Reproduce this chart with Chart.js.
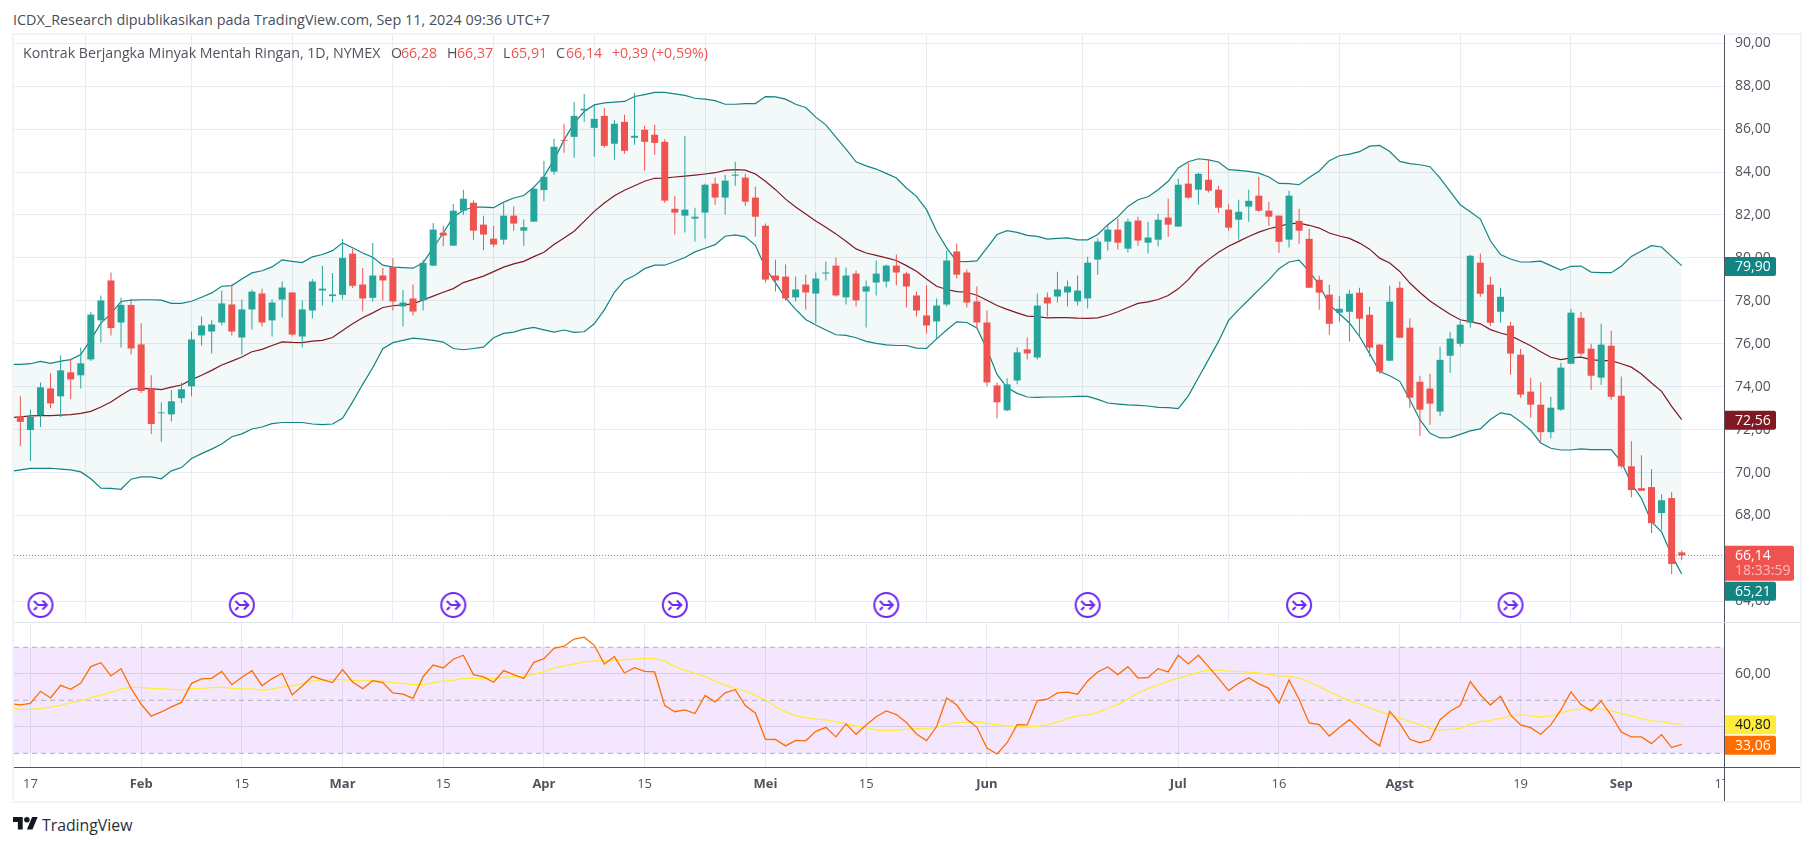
<!DOCTYPE html>
<html>
<head>
<meta charset="utf-8">
<title>Kontrak Berjangka Minyak Mentah Ringan</title>
<script src="https://cdn.jsdelivr.net/npm/chart.js@4/dist/chart.umd.js"></script>
<style>
  html, body { margin: 0; padding: 0; background: #fff; width: 1814px; height: 846px; overflow: hidden; }
  body { font-family: "Open Sans", sans-serif; color: #50535e; }
  .abs { position: absolute; white-space: nowrap; }
  #frame { position: absolute; left: 12px; top: 33px; width: 1786px; height: 766px; border: 2px solid #f0f3fa; }
  #divider { position: absolute; left: 14px; top: 622px; width: 1786px; height: 1px; background: #e0e3eb; }
  canvas { position: absolute; left: 14px; }
  #priceChart { top: 35px; }
  #rsiChart { top: 623px; }
  #title { left: 13px; top: 11px; font-size: 14.4px; line-height: 18px; color: #4a4e59; }
  .lg { top: 44px; font-size: 14.2px; line-height: 18px; color: #50535e; }
  .red { color: #ef5350; }
  #brand { left: 42px; top: 814px; font-size: 15.8px; line-height: 22px; color: #2a2e39; }
  #logo { position: absolute; left: 13px; top: 814px; }
</style>
</head>
<body>
<div id="frame"></div>
<canvas id="priceChart" width="1786" height="587"></canvas>
<div id="divider"></div>
<canvas id="rsiChart" width="1786" height="178"></canvas>

<div class="abs" id="title">ICDX_Research dipublikasikan pada TradingView.com, Sep 11, 2024 09:36 UTC+7</div>
<div class="abs lg" style="left:23px">Kontrak Berjangka Minyak Mentah Ringan, 1D, NYMEX</div>
<div class="abs lg" style="left:391px">O</div><div class="abs lg red" style="left:401px">66,28</div>
<div class="abs lg" style="left:447px">H</div><div class="abs lg red" style="left:457px">66,37</div>
<div class="abs lg" style="left:503px">L</div><div class="abs lg red" style="left:511px">65,91</div>
<div class="abs lg" style="left:556px">C</div><div class="abs lg red" style="left:566px">66,14</div>
<div class="abs lg red" style="left:612px">+0,39 (+0,59%)</div>

<svg id="logo" width="25" height="20" viewBox="0 0 36 28"><path fill="#131722" d="M14 22H7V11H0V4h14v18zM28 22h-8l7.5-18h8L28 22z"/><circle fill="#131722" cx="20" cy="8" r="4"/></svg>
<div class="abs" id="brand">TradingView</div>

<script>
const FONT = '"Open Sans", sans-serif';

// candles, first bar is the one before 17 Jan
const firstBar = -1;
const opens = [72.62, 71.98, 72.67, 73.92, 73.55, 74.67, 74.53, 75.27, 77.09, 78.95, 76.99,
  77.81, 75.97, 73.92, 72.76, 72.71, 73.46, 74.02, 76.39, 76.57, 76.99,
  77.83, 76.29, 77.6, 78.34, 77.09, 78.06, 78.39, 76.34, 77.55, 78.48,
  78.22, 78.28, 80.2, 78.76, 78.14, 79.18, 79.57, 77.74, 78.11, 78.02,
  79.64, 81.18, 80.57, 82.2, 82.57, 81.55, 80.9, 80.85, 81.97, 81.27,
  81.69, 83.16, 84.02, 85.5, 85.64, 86.87, 86.06, 86.62, 85.32, 86.34,
  85.6, 85.97, 85.74, 85.41, 82.29, 81.97, 81.83, 82.11, 83.46, 82.81,
  83.83, 83.74, 82.81, 81.5, 79.18, 79.13, 78.16, 78.76, 78.34, 79.27,
  79.64, 78.16, 79.27, 78.43, 78.85, 78.9, 79.64, 79.27, 78.25, 77.32,
  77.04, 77.83, 80.3, 79.32, 77.97, 76.99, 74.06, 72.9, 74.29, 75.74,
  75.36, 78.16, 78.2, 78.39, 77.97, 78.11, 79.92, 80.76, 81.32, 80.43,
  81.74, 80.71, 80.85, 81.88, 81.46, 83.46, 83.18, 83.64, 83.18, 82.25,
  81.78, 82.39, 82.9, 82.2, 81.97, 80.85, 81.73, 80.89, 78.98, 78.29,
  77.45, 77.49, 78.38, 77.35, 75.96, 75.21, 78.61, 76.75, 74.23, 73.91,
  72.84, 75.44, 76.0, 76.98, 79.78, 78.75, 77.49, 76.84, 75.49, 73.77,
  73.16, 71.88, 72.93, 75.07, 77.21, 75.77, 74.42, 75.91, 73.58, 70.29,
  69.27, 69.32, 68.11, 68.81, 66.28];
const closes = [72.36, 72.59, 73.97, 73.22, 74.76, 74.34, 75.09, 77.36, 78.02, 76.73, 77.81,
  75.78, 73.8, 72.26, 72.8, 73.32, 73.88, 76.2, 76.85, 76.9, 77.88,
  76.57, 77.6, 78.43, 76.99, 77.92, 78.62, 76.43, 77.6, 78.9, 78.57,
  78.3, 80.0, 78.7, 78.11, 79.18, 78.95, 77.97, 77.92, 77.5, 79.77,
  81.32, 81.04, 82.2, 82.76, 81.27, 81.09, 80.62, 81.97, 81.6, 81.43,
  83.22, 83.78, 85.18, 85.46, 86.62, 86.95, 86.48, 85.22, 86.25, 84.99,
  85.69, 85.41, 85.36, 82.67, 82.11, 82.25, 81.92, 83.41, 82.81, 83.6,
  83.88, 82.62, 81.92, 78.99, 78.95, 78.11, 78.53, 78.39, 79.04, 79.32,
  78.25, 79.18, 78.02, 78.67, 79.27, 79.64, 79.32, 78.67, 77.55, 76.85,
  77.78, 79.88, 79.22, 77.92, 76.99, 74.2, 73.27, 74.11, 75.6, 75.55,
  77.78, 77.88, 78.53, 78.67, 78.48, 79.78, 80.76, 81.32, 80.71, 81.69,
  80.81, 80.95, 81.78, 81.55, 83.41, 82.81, 83.92, 83.13, 82.34, 81.41,
  82.15, 82.66, 82.2, 81.92, 80.75, 82.9, 81.27, 78.61, 78.38, 76.93,
  77.63, 78.33, 77.17, 75.82, 74.7, 77.96, 76.28, 73.49, 72.93, 73.21,
  75.25, 76.24, 76.89, 80.1, 78.33, 76.98, 78.19, 75.54, 73.63, 73.16,
  71.88, 73.02, 74.89, 77.45, 75.54, 74.51, 75.96, 73.53, 70.29, 69.18,
  69.15, 67.64, 68.71, 65.74, 66.14];
const highs = [73.55, 72.93, 74.2, 74.62, 75.46, 75.26, 75.83, 77.49, 78.25, 79.32, 78.14,
  78.09, 76.95, 74.53, 73.27, 73.83, 74.19, 76.57, 77.27, 77.09, 78.48,
  78.76, 78.06, 78.53, 78.56, 78.06, 78.9, 78.39, 78.02, 79.02, 79.64,
  79.3, 80.88, 80.42, 79.53, 80.7, 79.53, 80.0, 78.5, 78.76, 79.92,
  81.63, 81.5, 82.51, 83.18, 82.67, 81.97, 81.5, 82.53, 82.39, 81.8,
  83.33, 84.53, 85.55, 86.25, 87.27, 87.64, 87.13, 86.99, 86.43, 86.67,
  87.69, 86.16, 86.2, 85.53, 82.9, 85.69, 82.34, 83.46, 83.74, 83.88,
  84.48, 83.92, 83.32, 81.6, 79.92, 79.69, 79.13, 79.22, 79.32, 79.83,
  80.02, 79.55, 79.41, 78.95, 79.88, 79.69, 80.16, 79.36, 78.43, 78.71,
  78.11, 80.34, 80.67, 79.46, 78.67, 77.55, 74.2, 74.39, 75.83, 76.29,
  78.34, 78.39, 79.36, 78.95, 79.18, 80.06, 80.9, 81.55, 81.83, 81.83,
  81.92, 81.69, 82.06, 82.76, 83.69, 84.43, 83.97, 84.57, 83.36, 82.52,
  82.71, 83.18, 83.78, 82.62, 81.97, 83.13, 82.29, 81.36, 79.17, 78.75,
  78.24, 78.52, 78.61, 77.73, 76.0, 78.7, 78.9, 77.18, 74.51, 74.6,
  75.86, 76.56, 77.07, 80.15, 80.2, 79.12, 78.61, 77.03, 75.77, 74.42,
  74.19, 73.53, 75.12, 77.63, 77.49, 76.0, 76.93, 76.61, 74.47, 71.46,
  70.81, 70.16, 68.99, 69.09, 66.37];
const lows = [71.24, 70.54, 72.12, 73.0, 72.59, 73.43, 73.92, 75.2, 76.06, 76.39, 75.83,
  75.5, 73.71, 71.8, 71.43, 72.39, 73.24, 73.55, 75.92, 75.55, 76.85,
  76.39, 75.5, 76.67, 76.81, 76.34, 77.22, 76.34, 75.83, 77.18, 77.78,
  77.92, 78.06, 78.6, 77.5, 77.97, 78.02, 77.55, 76.81, 77.32, 77.55,
  79.61, 80.54, 80.57, 82.0, 80.85, 80.36, 80.5, 80.62, 81.27, 80.57,
  81.69, 82.64, 83.88, 84.9, 84.67, 86.34, 84.71, 85.13, 84.57, 84.85,
  85.27, 84.06, 84.81, 82.57, 81.09, 81.18, 80.76, 80.9, 82.48, 82.02,
  83.36, 82.43, 80.99, 78.85, 78.43, 78.02, 77.97, 77.6, 76.95, 78.95,
  78.2, 77.83, 77.74, 76.76, 78.25, 78.62, 78.71, 77.69, 77.27, 76.48,
  76.2, 77.74, 79.04, 77.69, 76.71, 74.02, 72.53, 72.85, 74.11, 75.27,
  75.27, 77.27, 77.92, 77.74, 77.78, 77.64, 79.22, 80.34, 80.39, 80.25,
  80.57, 80.2, 80.53, 80.99, 81.46, 82.76, 82.48, 83.05, 82.11, 81.27,
  80.85, 81.69, 82.15, 81.5, 80.24, 80.48, 80.66, 78.61, 77.59, 76.42,
  77.03, 76.1, 76.28, 75.41, 74.6, 75.2, 76.28, 73.02, 71.7, 72.23,
  72.62, 74.65, 75.86, 76.75, 78.19, 76.84, 76.98, 74.56, 73.49, 72.56,
  71.46, 71.6, 72.88, 75.07, 75.44, 73.86, 74.09, 73.39, 70.2, 68.85,
  69.15, 67.18, 67.32, 65.27, 65.91];

// bollinger bands, one bar further back so they run in from the left edge
const firstLine = -2;
const bbUpper = [75.04, 75.04, 75.07, 75.18, 75.09, 75.19, 75.26, 75.5, 76.19, 76.96, 77.4, 77.97,
  78.03, 78.05, 78.05, 78.03, 77.88, 77.88, 77.98, 78.17, 78.37, 78.68,
  78.71, 79.02, 79.3, 79.4, 79.58, 79.91, 79.84, 79.78, 80.05, 80.16,
  80.34, 80.7, 80.47, 80.23, 80.03, 79.66, 79.57, 79.55, 79.52, 79.77,
  80.47, 81.16, 81.91, 82.22, 82.37, 82.37, 82.34, 82.6, 82.79, 82.91,
  83.3, 83.8, 84.57, 85.5, 86.28, 86.82, 87.13, 87.22, 87.26, 87.29,
  87.52, 87.61, 87.71, 87.71, 87.64, 87.57, 87.44, 87.4, 87.33, 87.16,
  87.16, 87.19, 87.19, 87.52, 87.5, 87.4, 87.16, 87.01, 86.56, 86.2,
  85.63, 85.07, 84.48, 84.29, 84.14, 83.94, 83.72, 83.26, 82.87, 82.25,
  81.24, 80.47, 79.84, 79.83, 79.86, 80.47, 81.09, 81.27, 81.19, 81.05,
  81.0, 80.88, 80.91, 80.93, 80.84, 80.84, 81.09, 81.55, 81.91, 82.4,
  82.71, 82.85, 83.18, 83.57, 84.19, 84.48, 84.62, 84.57, 84.47, 84.11,
  84.08, 84.03, 83.95, 83.77, 83.47, 83.46, 83.41, 83.75, 84.05, 84.53,
  84.76, 84.84, 84.95, 85.21, 85.24, 84.96, 84.5, 84.39, 84.34, 84.25,
  83.72, 83.1, 82.48, 82.15, 81.81, 80.8, 80.16, 79.95, 79.81, 79.82,
  79.85, 79.64, 79.43, 79.61, 79.62, 79.34, 79.31, 79.31, 79.61, 80.07,
  80.32, 80.57, 80.51, 80.07, 79.64];
const bbBasis = [72.56, 72.59, 72.64, 72.65, 72.65, 72.67, 72.7, 72.76, 72.85, 73.05, 73.29, 73.6,
  73.88, 73.92, 73.91, 73.86, 73.98, 74.08, 74.33, 74.53, 74.76, 75.01,
  75.19, 75.38, 75.63, 75.74, 75.92, 76.09, 76.06, 76.05, 76.12, 76.16,
  76.29, 76.62, 76.93, 77.21, 77.44, 77.69, 77.77, 77.81, 77.86, 78.04,
  78.22, 78.4, 78.57, 78.85, 79.0, 79.15, 79.36, 79.57, 79.72, 79.84,
  80.06, 80.26, 80.62, 80.93, 81.24, 81.7, 82.17, 82.56, 82.9, 83.15,
  83.36, 83.57, 83.71, 83.72, 83.77, 83.81, 83.86, 83.91, 83.97, 84.08,
  84.11, 84.09, 83.91, 83.57, 83.18, 82.74, 82.37, 82.05, 81.72, 81.43,
  81.12, 80.78, 80.42, 80.23, 80.12, 80.0, 79.88, 79.64, 79.38, 79.02,
  78.68, 78.53, 78.43, 78.4, 78.26, 78.03, 77.78, 77.6, 77.44, 77.29,
  77.26, 77.21, 77.22, 77.22, 77.19, 77.18, 77.21, 77.33, 77.49, 77.69,
  77.88, 77.95, 78.06, 78.25, 78.56, 78.99, 79.53, 79.92, 80.26, 80.54,
  80.77, 81.0, 81.2, 81.36, 81.47, 81.59, 81.62, 81.52, 81.39, 81.16,
  81.02, 80.91, 80.69, 80.41, 79.99, 79.76, 79.37, 78.83, 78.39, 77.99,
  77.68, 77.37, 77.12, 77.03, 76.93, 76.66, 76.5, 76.38, 76.14, 75.91,
  75.63, 75.37, 75.26, 75.34, 75.38, 75.26, 75.21, 75.21, 75.07, 74.91,
  74.59, 74.17, 73.78, 73.08, 72.46];
const bbLower = [70.05, 70.12, 70.19, 70.19, 70.2, 70.16, 70.12, 70.03, 69.71, 69.27, 69.26, 69.22,
  69.69, 69.8, 69.8, 69.71, 70.08, 70.23, 70.65, 70.88, 71.09, 71.33,
  71.67, 71.8, 72.03, 72.12, 72.28, 72.33, 72.33, 72.33, 72.26, 72.23,
  72.26, 72.53, 73.29, 74.11, 74.88, 75.77, 76.05, 76.16, 76.26, 76.22,
  76.16, 76.08, 75.78, 75.72, 75.78, 75.84, 76.28, 76.48, 76.54, 76.68,
  76.76, 76.65, 76.54, 76.64, 76.53, 76.56, 76.93, 77.58, 78.4, 78.95,
  79.18, 79.5, 79.66, 79.66, 79.83, 80.02, 80.28, 80.45, 80.62, 81.01,
  81.07, 80.98, 80.59, 79.53, 78.84, 78.14, 77.6, 77.13, 76.87, 76.64,
  76.42, 76.39, 76.28, 76.11, 76.02, 75.95, 75.92, 75.92, 75.8, 75.78,
  76.23, 76.64, 77.02, 76.99, 76.74, 75.74, 74.57, 73.95, 73.69, 73.52,
  73.5, 73.52, 73.52, 73.53, 73.55, 73.55, 73.41, 73.24, 73.19, 73.15,
  73.13, 73.1, 73.04, 73.02, 72.98, 73.57, 74.42, 75.26, 76.11, 77.09,
  77.59, 78.05, 78.52, 78.98, 79.5, 79.81, 79.9, 79.37, 78.75, 77.82,
  77.4, 76.97, 76.34, 75.54, 74.71, 74.51, 74.25, 73.39, 72.46, 71.83,
  71.61, 71.63, 71.78, 71.94, 72.03, 72.47, 72.78, 72.7, 72.37, 71.97,
  71.38, 71.13, 71.05, 71.05, 71.1, 71.07, 71.07, 71.07, 70.5, 69.49,
  68.79, 67.71, 67.24, 66.15, 65.27];

// rsi pane
const rsi = [48.74, 48.24, 48.87, 53.4, 50.88, 55.66, 54.15, 56.54, 62.7, 64.2, 59.2, 61.95,
  54.5, 48.5, 44.0, 45.6, 47.5, 49.2, 56.4, 58.05, 58.3, 60.9,
  55.9, 58.7, 61.2, 55.5, 58.2, 60.2, 52.0, 55.4, 59.05, 57.8,
  56.7, 61.6, 56.9, 54.4, 57.4, 56.7, 52.8, 52.3, 50.75, 58.9,
  63.3, 62.2, 65.5, 67.0, 59.7, 58.8, 56.8, 61.2, 59.7, 58.2,
  64.3, 65.7, 69.6, 70.4, 73.1, 73.8, 70.75, 63.7, 66.5, 60.3,
  62.3, 60.9, 60.7, 48.0, 45.7, 46.4, 45.0, 51.8, 49.4, 52.8,
  54.0, 48.0, 45.2, 35.3, 35.2, 32.8, 34.9, 34.7, 38.3, 39.8,
  36.2, 41.1, 37.2, 40.7, 43.8, 46.0, 44.6, 41.6, 37.3, 34.8,
  40.1, 50.9, 48.2, 42.8, 39.8, 32.0, 29.75, 34.0, 40.8, 40.7,
  49.9, 50.4, 52.8, 53.1, 52.3, 57.3, 60.7, 62.6, 59.7, 62.7,
  58.4, 58.6, 61.95, 60.7, 67.0, 63.7, 67.0, 62.7, 58.3, 53.65,
  56.4, 58.55, 56.2, 54.5, 48.9, 57.7, 50.4, 41.45, 40.8, 36.5,
  39.7, 42.7, 39.05, 35.4, 32.8, 45.85, 41.3, 35.3, 34.0, 35.0,
  42.7, 45.85, 48.0, 57.05, 52.1, 48.2, 51.5, 44.5, 40.7, 39.7,
  37.2, 40.7, 46.35, 53.15, 48.4, 46.0, 49.75, 44.35, 38.05, 36.2,
  36.2, 33.65, 37.05, 32.15, 33.4];
const rsiMa = [47.0, 46.7, 46.5, 46.9, 47.4, 48.1, 49.1, 49.9, 51.0, 52.0, 53.1, 54.3,
  54.9, 54.9, 54.5, 54.4, 54.15, 53.9, 54.4, 54.5, 54.8, 55.0,
  54.5, 54.3, 54.3, 53.8, 54.3, 55.0, 55.5, 56.3, 57.2, 57.7,
  57.8, 57.8, 57.55, 57.4, 57.4, 57.2, 56.7, 56.4, 55.9, 55.9,
  56.7, 57.2, 57.55, 58.3, 58.4, 58.3, 58.3, 58.7, 58.9, 59.05,
  59.8, 60.7, 62.2, 63.0, 63.7, 64.5, 64.85, 64.85, 65.2, 65.3,
  65.6, 65.7, 65.7, 64.85, 62.7, 61.4, 60.2, 59.05, 57.2, 55.7,
  54.5, 53.5, 51.85, 50.1, 47.6, 45.6, 44.2, 43.4, 42.9, 42.6,
  41.9, 41.2, 40.3, 39.7, 38.8, 38.7, 38.7, 39.1, 39.3, 39.4,
  39.8, 40.9, 41.6, 41.8, 41.9, 41.3, 40.8, 40.3, 40.1, 39.9,
  40.2, 40.8, 41.8, 43.2, 44.1, 44.5, 45.5, 46.9, 48.4, 50.5,
  52.8, 54.4, 55.8, 57.2, 58.4, 59.4, 60.6, 61.4, 61.4, 61.0,
  60.8, 60.6, 60.3, 59.8, 59.2, 59.05, 58.4, 56.9, 55.15, 53.3,
  51.4, 49.9, 48.6, 47.2, 45.7, 44.7, 43.3, 41.95, 40.8, 39.4,
  38.8, 39.05, 39.4, 40.9, 41.95, 42.45, 43.2, 44.0, 44.5, 44.1,
  43.7, 44.1, 45.2, 46.35, 46.7, 46.85, 46.7, 46.0, 45.0, 44.1,
  43.1, 42.2, 41.95, 41.3, 40.9];

// axes
const tickBars = [0, 11, 21, 31, 41, 51, 61, 73, 83, 95, 114, 124, 136, 148, 158, 168];
const tickLabels = ['17', 'Feb', '15', 'Mar', '15', 'Apr', '15', 'Mei', '15', 'Jun', 'Jul', '16', 'Agst', '19', 'Sep', '17'];
const monthLabels = ['Feb', 'Mar', 'Apr', 'Mei', 'Jun', 'Jul', 'Agst', 'Sep'];
const priceTicks = [64, 66, 68, 70, 72, 74, 76, 78, 80, 82, 84, 86, 88, 90];
const rsiTicks = [40, 60];
const rsiLevels = [70, 50, 30];

// dividends markers along the bottom of the price pane
const eventBars = [1, 21, 42, 64, 85, 105, 126, 147];
const eventPrice = 63.83;

// last value tags on the right
const lastClose = 66.14;
const countdown = '18:33:59';
const priceTagAt = [79.6, 72.43, 66.14, 64.47];
const priceTagText = ['79,90', '72,56', '66,14', '65,21'];
const priceTagColor = ['#138484', '#801922', '#ef5350', '#138484'];
const rsiTagAt = [40.8, 33.06];
const rsiTagText = ['40,80', '33,06'];
const rsiTagColor = ['#ffeb3b', '#ff6d00'];
const rsiTagInk = ['#131722', '#ffffff'];

const UP = '#26a69a', DOWN = '#ef5350';
const GRID = '#e6edf3', AXIS = '#50535e', TEXT = '#50535e';

const barNo = k => k + firstBar;
const lineNo = k => k + firstLine;
const lineData = values => values.map((y, k) => ({ x: lineNo(k), y }));
const candleColor = closes.map((c, k) => (c >= opens[k] ? UP : DOWN));

// same horizontal range for both panes
const xMin = -1.63, xMax = 168.2;

function xScale(showLabels) {
  return {
    type: 'linear', bounds: 'data', min: xMin, max: xMax, offset: false,
    afterBuildTicks: s => { s.ticks = tickBars.map(value => ({ value })); },
    afterFit: s => {
      s.height = showLabels ? 34 : 0;
      s.paddingLeft = s.paddingRight = 0;
    },
    border: { display: showLabels, color: AXIS },
    grid: {
      color: ctx => (ctx.tick && ctx.tick.value === 168 ? 'transparent' : GRID),
      drawTicks: false
    },
    ticks: {
      display: showLabels, autoSkip: false, maxRotation: 0, padding: 9, color: TEXT,
      callback: (v, i) => tickLabels[i],
      font: ctx => ({ family: FONT, size: 13, weight: monthLabels.includes(tickLabels[ctx.index]) ? 'bold' : 'normal' })
    }
  };
}

function yScale(min, max, ticks, gridColor) {
  return {
    position: 'right', bounds: 'data', min, max,
    afterBuildTicks: s => { s.ticks = ticks.map(value => ({ value })); },
    afterFit: s => {
      s.width = 76;
      s.paddingTop = s.paddingBottom = 0;
    },
    border: { display: true, color: AXIS },
    grid: { color: gridColor, drawTicks: false },
    ticks: {
      autoSkip: false, padding: 11, color: TEXT, font: { family: FONT, size: 14 },
      callback: v => v.toFixed(2).replace('.', ',')
    }
  };
}

function drawTag(ctx, left, top, w, h, color) {
  ctx.fillStyle = color;
  ctx.beginPath();
  ctx.roundRect(left, top, w, h, [0, 2, 2, 0]);
  ctx.fill();
}

const priceTags = {
  id: 'priceTags',
  afterDraw(chart) {
    const { ctx, chartArea, scales } = chart;
    ctx.save();
    ctx.font = '14px ' + FONT;
    ctx.textBaseline = 'middle';
    priceTagAt.forEach((v, i) => {
      const y = scales.y.getPixelForValue(v);
      const isLast = priceTagText[i] === '66,14';
      drawTag(ctx, chartArea.right + 1, y - 9.5, isLast ? 69 : 51, isLast ? 35 : 19, priceTagColor[i]);
      ctx.fillStyle = '#fff';
      ctx.fillText(priceTagText[i], chartArea.right + 11, y + 0.5);
      if (isLast) {
        ctx.fillStyle = 'rgba(255,255,255,0.6)';
        ctx.fillText(countdown, chartArea.right + 11, y + 16);
      }
    });
    ctx.restore();
  }
};

const rsiOverlay = {
  id: 'rsiOverlay',
  afterDraw(chart) {
    const { ctx, chartArea, scales, width, height } = chart;
    ctx.save();
    // the last date label is cut off at the price axis
    ctx.fillStyle = '#fff';
    ctx.fillRect(chartArea.right, chartArea.bottom, width - chartArea.right, height - chartArea.bottom);
    ctx.strokeStyle = AXIS;
    ctx.lineWidth = 1;
    ctx.beginPath();
    ctx.moveTo(chartArea.right + 0.5, chartArea.top);
    ctx.lineTo(chartArea.right + 0.5, height);
    ctx.moveTo(chartArea.right, chartArea.bottom + 0.5);
    ctx.lineTo(width, chartArea.bottom + 0.5);
    ctx.stroke();
    ctx.font = '14px ' + FONT;
    ctx.textBaseline = 'middle';
    rsiTagAt.forEach((v, i) => {
      const y = scales.y.getPixelForValue(v);
      drawTag(ctx, chartArea.right + 1, y - 9.5, 51, 19, rsiTagColor[i]);
      ctx.fillStyle = rsiTagInk[i];
      ctx.fillText(rsiTagText[i], chartArea.right + 11, y + 0.5);
    });
    ctx.restore();
  }
};

function eventIcon() {
  const c = document.createElement('canvas');
  c.width = 28; c.height = 28;
  const g = c.getContext('2d');
  g.strokeStyle = '#6d28f5';
  g.lineWidth = 2;
  g.beginPath(); g.arc(14, 14, 12, 0, Math.PI * 2); g.stroke();
  g.beginPath();
  g.moveTo(7.5, 10); g.lineTo(11.5, 14); g.lineTo(20.5, 14);
  g.moveTo(16, 9.5); g.lineTo(20.5, 14); g.lineTo(16, 18.5);
  g.moveTo(7.5, 19); g.lineTo(10.5, 16);
  g.stroke();
  return c;
}

const common = {
  responsive: false, animation: false, devicePixelRatio: 1,
  layout: { padding: 0, autoPadding: false },
  plugins: { legend: { display: false }, title: { display: false }, tooltip: { enabled: false } }
};

function bandLine(values, color, order, extra) {
  return Object.assign({
    type: 'line', data: lineData(values), borderColor: color, borderWidth: 1.2,
    pointRadius: 0, tension: 0, fill: false, order
  }, extra);
}

new Chart(document.getElementById('priceChart'), {
  type: 'bar',
  data: {
    datasets: [
      {
        data: highs.map((h, k) => ({ x: barNo(k), y: [lows[k], h] })),
        backgroundColor: candleColor, barThickness: 1, grouped: false, inflateAmount: 0, order: 2
      },
      {
        data: closes.map((c, k) => ({ x: barNo(k), y: [opens[k], c] })),
        backgroundColor: candleColor, barThickness: 7, grouped: false, inflateAmount: 0, order: 1
      },
      bandLine(bbUpper, '#138484', 5, { fill: { target: 4 }, backgroundColor: 'rgba(19,132,132,0.05)' }),
      bandLine(bbBasis, '#801922', 4),
      bandLine(bbLower, '#138484', 6),
      {
        type: 'line', data: [{ x: xMin, y: lastClose }, { x: xMax, y: lastClose }],
        borderColor: DOWN, borderWidth: 1, borderDash: [1, 2], pointRadius: 0, order: 3
      },
      {
        type: 'line', data: eventBars.map(x => ({ x, y: eventPrice })), showLine: false,
        pointStyle: eventIcon(), pointRadius: 14, order: 0
      }
    ]
  },
  options: Object.assign({}, common, {
    scales: { x: xScale(false), y: yScale(63.035, 90.387, priceTicks, GRID) }
  }),
  plugins: [priceTags]
});

const levelData = v => [{ x: xMin, y: v }, { x: xMax, y: v }];

new Chart(document.getElementById('rsiChart'), {
  type: 'line',
  data: {
    datasets: [
      {
        data: levelData(rsiLevels[0]), borderColor: '#b0afb8', borderWidth: 1, borderDash: [5, 4], pointRadius: 0,
        fill: { target: 2 }, backgroundColor: 'rgba(145,15,235,0.1)', order: 5
      },
      { data: levelData(rsiLevels[1]), borderColor: '#b0afb8', borderWidth: 1, borderDash: [5, 4], pointRadius: 0, order: 4 },
      { data: levelData(rsiLevels[2]), borderColor: '#b0afb8', borderWidth: 1, borderDash: [5, 4], pointRadius: 0, order: 3 },
      { data: lineData(rsiMa), borderColor: '#ffeb3b', borderWidth: 1.3, pointRadius: 0, tension: 0, order: 2 },
      { data: lineData(rsi), borderColor: '#ff6d00', borderWidth: 1.3, pointRadius: 0, tension: 0, order: 1 }
    ]
  },
  options: Object.assign({}, common, {
    scales: { x: xScale(true), y: yScale(24.83, 79.17, rsiTicks, '#e0e3f0') }
  }),
  plugins: [rsiOverlay]
});
</script>
</body>
</html>
